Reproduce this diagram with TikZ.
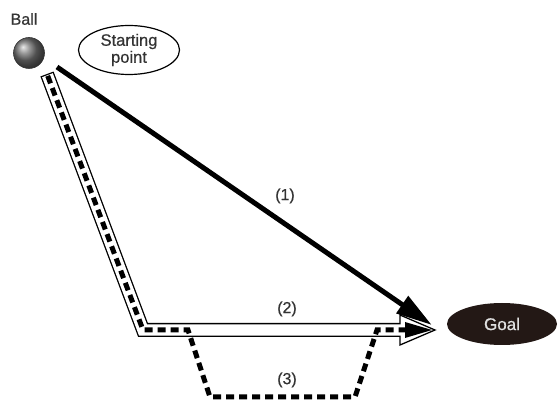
\documentclass[tikz,border=0pt]{standalone}
\usepackage{fontspec}
\setmainfont{Liberation Sans}
\newfontfamily\heavyfont{Liberation Sans}[FakeBold=0.6]
\usetikzlibrary{shapes.geometric,arrows.meta,calc}
\definecolor{goalfill}{HTML}{231815}
\begin{document}
\begin{tikzpicture}[x=1pt,y=-1pt,
  lbl/.style={font=\heavyfont\fontsize{16}{18}\selectfont, text=black!80, inner sep=0pt},
  shaftout/.style={line width=14pt, line join=miter},
  shaftin/.style={white, line width=11.4pt, line join=miter},
  dashpath/.style={line width=5pt, dash pattern=on 8pt off 5pt, line join=miter},
  mainarrow/.style={line width=5pt, -{Triangle[length=36pt,width=20pt]}}]
\useasboundingbox (0,0) rectangle (558,403);
% ball and labels
\node[lbl] (balllbl) at (24,19) {Ball};
\node[circle, minimum size=31pt, inner sep=0pt, shading=ball, ball color=black!55, draw=black!80, line width=0.6pt] (ball) at (29,53) {};
\node[ellipse, draw, line width=1.2pt, minimum width=101pt, minimum height=49pt, inner sep=0pt,
      align=center, font=\heavyfont\fontsize{16.5}{17}\selectfont, text=black!80] (start) at (129,50) {Starting\\point};
\node[ellipse, fill=goalfill, minimum width=110pt, minimum height=42pt, inner sep=0pt,
      text=black!12, font=\heavyfont\fontsize{17}{18}\selectfont] (goal) at (502,324) {Goal};
% route coordinates
\coordinate (A) at (47,74);
\coordinate (B) at (143,330);
\coordinate (C) at (401,330);
\coordinate (C2) at (402.5,330);
\coordinate (D1) at (188,330);
\coordinate (D2) at (210,397);
\coordinate (D3) at (355,397);
\coordinate (D4) at (377,330);
\coordinate (D5) at (406,330);
% path (2): double outlined shaft with open head
\draw[shaftout] (A) -- (B) -- (C);
\draw[line width=1.3pt, fill=white, line join=miter] (400,315) -- (435,330) -- (400,345) -- cycle;
\draw[shaftin, shorten <=1.3pt] (A) -- (B) -- (C2);
% path (3): dashed
\draw[dashpath] ($(A)!2pt!(B)$) -- (B) -- (D1) -- (D2) -- (D3) -- (D4) -- (D5);
\fill (405,322) -- (432,330) -- (405,338) -- cycle;
% path (1)
\coordinate (S1) at (57,67);
\coordinate (T1) at ([xshift=-15pt,yshift=-1pt]goal.west);
\draw[mainarrow] (S1) -- (T1);
% labels
\node[lbl] (l1) at (285,196) {(1)};
\node[lbl] (l2) at (287,309) {(2)};
\node[lbl] (l3) at (287,380) {(3)};
\end{tikzpicture}
\end{document}
